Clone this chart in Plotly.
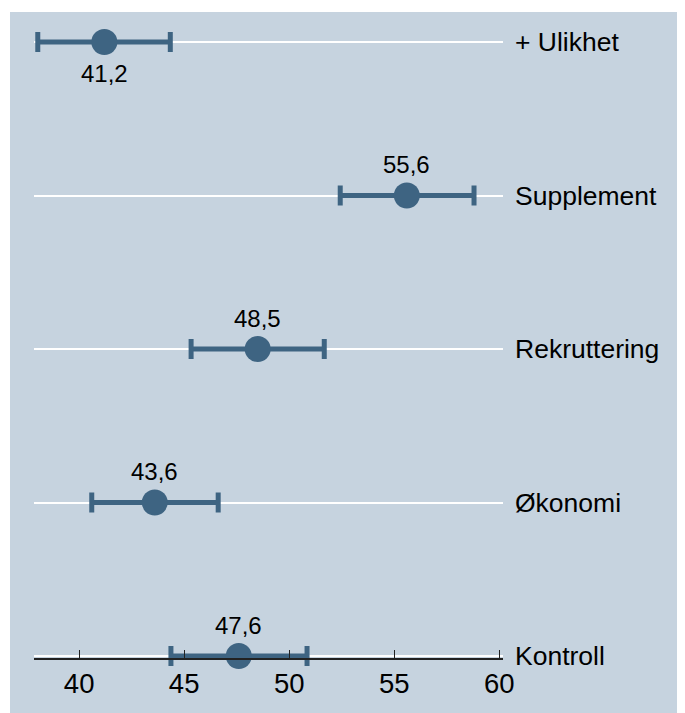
import plotly.graph_objects as go

categories = ["Kontroll", "Økonomi", "Rekruttering", "Supplement", "+ Ulikhet"]
means = [47.6, 43.6, 48.5, 55.6, 41.2]
lower = [44.37, 40.6, 45.33, 52.43, 38.03]
upper = [50.85, 46.62, 51.67, 58.8, 44.34]
value_labels = ["47,6", "43,6", "48,5", "55,6", "41,2"]
label_below = [False, False, False, False, True]
tick_vals = [40, 45, 50, 55, 60]
tick_text = ["40", "45", "50", "55", "60"]

ypos = list(range(len(categories)))
bg = "#c6d3df"
mk = "#3e6482"
font_family = "Liberation Sans, Arial, sans-serif"

# mapping from desired screen x to figure x (body margin 8px, slight horizontal scaling)
KX = 0.982
def fx(s):
    return s / KX - 8

W, H = 700, 705
ML, MT = 2, 4
PW, PH = W - ML, H - MT
Y0 = 12

def px(s):
    return (fx(s) - ML) / PW

fig = go.Figure()
fig.add_trace(go.Scatter(
    x=means, y=ypos, mode="markers",
    marker=dict(size=26, color=mk),
    error_x=dict(type="data", symmetric=False,
                 array=[u - m for u, m in zip(upper, means)],
                 arrayminus=[m - l for m, l in zip(means, lower)],
                 color=mk, thickness=5, width=10),
    showlegend=False, hoverinfo="skip", cliponaxis=False,
))

annotations = []
for i, c in enumerate(categories):
    annotations.append(dict(x=px(512), y=ypos[i], xref="paper", yref="y", text=c,
                            showarrow=False, xanchor="left", yanchor="middle",
                            font=dict(size=26.5, color="black", family=font_family)))
    annotations.append(dict(x=means[i], y=ypos[i], xref="x", yref="y", text=value_labels[i],
                            showarrow=False, xanchor="center", yanchor="middle",
                            yshift=-31 if label_below[i] else 31,
                            font=dict(size=24, color="black", family=font_family)))

fig.update_layout(
    width=W, height=H,
    margin=dict(l=ML, r=0, t=MT, b=0, pad=0),
    paper_bgcolor="white", plot_bgcolor=bg,
    font=dict(family=font_family, color="black"),
    shapes=[dict(type="rect", xref="paper", yref="paper", x0=0, x1=1, y0=0, y1=1,
                 fillcolor=bg, line=dict(width=0), layer="below")],
    annotations=annotations,
    xaxis=dict(domain=[px(34), px(502)], range=[37.86, 60.16],
               anchor="free", position=(Y0 + PH - 659) / PH,
               tickvals=tick_vals, ticktext=tick_text, ticks="inside", ticklen=8,
               tickcolor="#222", tickwidth=1, showline=True, linecolor="#222", linewidth=2,
               showgrid=False, zeroline=False, tickfont=dict(size=27.5, color="black")),
    yaxis=dict(domain=[0, 1], range=[-(Y0 + PH - 656) / 153.5, 4 + (42 - Y0) / 153.5],
               showticklabels=False,
               tickvals=ypos, showgrid=True, gridcolor="white", gridwidth=2,
               zeroline=False, showline=False, ticks=""),
)

fig.write_html("out.html")
